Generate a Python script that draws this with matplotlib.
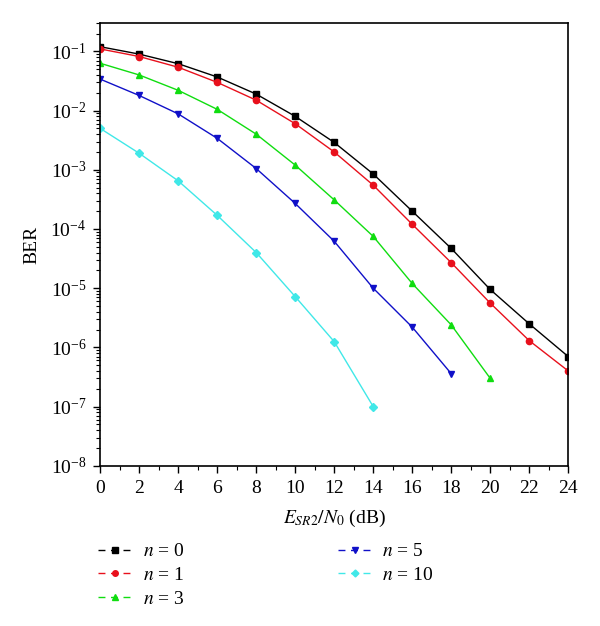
import matplotlib
matplotlib.use('Agg')
import matplotlib.pyplot as plt
from matplotlib.lines import Line2D
from matplotlib.ticker import LogLocator, MultipleLocator, NullFormatter

plt.rcParams['font.family'] = 'Liberation Serif'
plt.rcParams['mathtext.fontset'] = 'stix'

# BER curves
snr = [0, 2, 4, 6, 8, 10, 12, 14, 16, 18, 20, 22, 24]
ber_n0 = [0.12, 0.09, 0.062, 0.037, 0.019, 0.008, 0.0029, 0.00085, 0.0002, 4.7e-5, 9.5e-6, 2.5e-6, 7e-7]
ber_n1 = [0.11, 0.082, 0.054, 0.030, 0.015, 0.006, 0.002, 0.00055, 0.00012, 2.7e-5, 5.6e-6, 1.3e-6, 4e-7]
ber_n3 = [0.063, 0.040, 0.022, 0.0105, 0.004, 0.0012, 0.00031, 7.5e-5, 1.2e-5, 2.4e-6, 3e-7]
ber_n5 = [0.034, 0.018, 0.0088, 0.0034, 0.00105, 0.00027, 6.2e-5, 1e-5, 2.2e-6, 3.6e-7]
ber_n10 = [0.005, 0.0019, 0.00065, 0.00017, 4e-5, 7.2e-6, 1.25e-6, 1e-7]

series = [
    (ber_n0, 'black', 's', r'$n$ = 0'),
    (ber_n1, '#e8101c', 'o', r'$n$ = 1'),
    (ber_n3, '#10dd10', '^', r'$n$ = 3'),
    (ber_n5, '#1010c8', 'v', r'$n$ = 5'),
    (ber_n10, '#40e8e8', 'D', r'$n$ = 10'),
]

fig = plt.figure(figsize=(6, 6.26), dpi=100)
ax = fig.add_axes([0.167, 0.256, 0.78, 0.707])

handles = []
for vals, color, marker, label in series:
    ms = 4 if marker == 'D' else 4.5
    ax.plot(snr[:len(vals)], vals, color=color, marker=marker, markersize=ms, linewidth=1.0)
    handles.append(Line2D([], [], color=color, marker=marker, markersize=ms - 0.5,
                          linewidth=1.0, dashes=(5, 4), label=label))

ax.set_yscale('log')
ax.set_xlim(0, 24)
ax.set_ylim(1e-8, 3e-1)
ax.xaxis.set_major_locator(MultipleLocator(2))
ax.xaxis.set_minor_locator(MultipleLocator(1))
ax.yaxis.set_major_locator(LogLocator(base=10, numticks=20))
ax.yaxis.set_minor_locator(LogLocator(base=10, subs=range(2, 10), numticks=20))
ax.yaxis.set_minor_formatter(NullFormatter())
ax.tick_params(axis='both', which='major', labelsize=14, length=5, width=1, pad=5)
ax.tick_params(axis='both', which='minor', length=3, width=0.8)
for s in ax.spines.values():
    s.set_linewidth(1.2)

ax.set_xlabel(r'$E_{SR2}/N_0$ (dB)', fontsize=14, labelpad=8)
ax.set_ylabel('BER', fontsize=14, labelpad=7)

# legend in two columns below the axes
fig.legend(handles=handles,
           loc='upper left', bbox_to_anchor=(0.163, 0.133), ncol=2, frameon=False,
           fontsize=14, handlelength=1.8, handletextpad=0.5, columnspacing=7.9,
           labelspacing=0.32, borderaxespad=0, borderpad=0)

fig.savefig('out.png', dpi=100)
